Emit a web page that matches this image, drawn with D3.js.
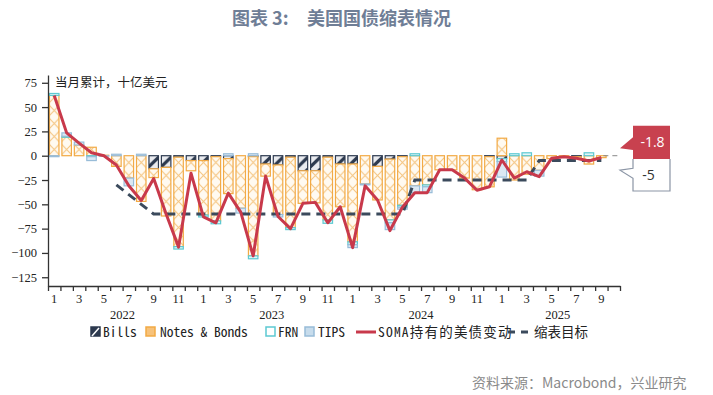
<!DOCTYPE html>
<html><head><meta charset="utf-8">
<script src="https://cdn.jsdelivr.net/npm/d3@7"></script>
<style>
html,body{margin:0;padding:0;background:#fff;}
svg{display:block;}
</style></head><body>
<svg id="c" width="713" height="395"></svg>
<script>
// ---------------- data ----------------
const months = ["2022-01","2022-02","2022-03","2022-04","2022-05","2022-06","2022-07","2022-08","2022-09","2022-10","2022-11","2022-12",
"2023-01","2023-02","2023-03","2023-04","2023-05","2023-06","2023-07","2023-08","2023-09","2023-10","2023-11","2023-12",
"2024-01","2024-02","2024-03","2024-04","2024-05","2024-06","2024-07","2024-08","2024-09","2024-10","2024-11","2024-12",
"2025-01","2025-02","2025-03","2025-04","2025-05","2025-06","2025-07","2025-08","2025-09","2025-10"];
const monthTickLabels = ["1","3","5","7","9","11"];
const years = ["2022","2023","2024","2025"];
const seriesNames = ["Bills","Notes & Bonds","FRN","TIPS"];
const lineNames = ["SOMA持有的美债变动","缩表目标"];

const bills = [0,0,0,0,0,0,0,0,-13.5,-12,-1.5,-5,-5,-1,-3,0,-1,-8.5,-9.5,-1.5,-15.5,-15.5,-1.5,-8.5,-8.5,0,-11,-3.5,-1,0,0,0,0,0,0,-1,-3,0,0,0,0,0,-1,0,0];
const notesBonds = [62,19,11,8.7,0.5,-11,-23,-47,-9,-50,-92,-10.5,-56,-66,-36,-54,-102,-12.5,-51,-72.5,-33.5,-33,-64.5,-44,-80,-29,-34.5,-62.5,-50,-31,-30,-14.5,-14.5,-23,-35,-31,18,-25,-19,-15,-3,-1,-2,-8.6,-2];
const frn = [2,1,0,-1,0,0,0,0,0,0,-2.5,0,-2,-3,0,0,-3,0,0,-2,0,0,-3.5,0,-3,0,0,-3,-2,2,-2,0,0,0,0,0,-3,2,3,0,0,0,0,3,0];
const tips = [-1,3.5,3,-4,-0.5,1.5,-8,1.5,0,0,0,0,0,0,2,-5,2,0,-2.5,0,0,0,0,0,-3,-1,0,-7,-2,-7,-6,0,0,0,0,0,-16,0,0,-6,0,0,0,0,0];
const soma = [62,23.5,13,3,0,-9.5,-31,-46,-23.5,-60,-94,-18,-63,-69,-38.5,-58,-103,-21,-62.5,-75,-49,-48,-69,-52.5,-94.5,-31,-45.5,-77,-53,-38,-38,-14.5,-14.5,-23,-35.5,-32,-4.4,-23,-16.5,-21.5,-2.7,-1,-2.7,-5.5,-1.8];
const target = [null,null,null,null,null,-30,-40,-50,
-60,-60,-60,-60,-60,-60,-60,-60,-60,-60,-60,-60,-60,-60,-60,-60,-60,-60,-60,-60,-60,
-25,-25,-25,-25,-25,-25,-25,-25,-25,-25,
-5,-5,-5,-5,-5,-5];
const yTicks = [75,50,25,0,-25,-50,-75,-100,-125];
const calloutLabels = ["-1.8","-5"];

// ---------------- setup ----------------
const svg = d3.select("#c");
const x = d3.scaleBand().domain(months).range([48,620]).paddingInner(0.14).paddingOuter(0.07);
const y = d3.scaleLinear().domain([-134,83]).range([286,75]);
const bw = x.bandwidth(), step = x.step();
const xc = m => x(m) + bw/2;

const serif = "'Liberation Serif','Times New Roman',serif";
const cjkMono = "'Noto Sans Mono CJK SC','Noto Sans CJK SC','Liberation Mono',monospace";
const cjk = "'Noto Sans CJK SC','Noto Sans',sans-serif";

const colors = {
  "Bills": {stroke:"#2d3a4f", fill:"url(#pBills)"},
  "Notes & Bonds": {stroke:"#f2aa45", fill:"url(#pNB)"},
  "FRN": {stroke:"#5cc9d2", fill:"#e3f6f7"},
  "TIPS": {stroke:"#98bcd8", fill:"#dbe8f3"}
};
const red = "#c8394b", navy = "#3b4a5c";

// patterns
const defs = svg.append("defs");
const pNB = defs.append("pattern").attr("id","pNB").attr("patternUnits","userSpaceOnUse")
  .attr("x",48).attr("y",0).attr("width",step).attr("height",13);
pNB.append("rect").attr("width",step).attr("height",13).attr("fill","#fffaf1");
pNB.append("line").attr("x1",0).attr("y1",0).attr("x2",step).attr("y2",13).attr("stroke","#f5c581").attr("stroke-width",1.1);
pNB.append("line").attr("x1",step).attr("y1",0).attr("x2",0).attr("y2",13).attr("stroke","#f5c581").attr("stroke-width",1.1);
const pB = defs.append("pattern").attr("id","pBills").attr("patternUnits","userSpaceOnUse")
  .attr("x",48).attr("y",0).attr("width",step).attr("height",12);
pB.append("rect").attr("width",step).attr("height",12).attr("fill","#e9ebef");
pB.append("line").attr("x1",-2).attr("y1",14).attr("x2",step+2).attr("y2",-2).attr("stroke","#2d3a4f").attr("stroke-width",3.2);

// title
svg.append("text").attr("x",232).attr("y",25).attr("font-family",cjk).attr("font-weight","bold")
  .attr("font-size",18).attr("fill","#6f7e96").text("图表 3:");
svg.append("text").attr("x",307).attr("y",25).attr("font-family",cjk).attr("font-weight","bold")
  .attr("font-size",18).attr("fill","#6f7e96").text("美国国债缩表情况");

// unit note
svg.append("text").attr("x",55).attr("y",87).attr("font-family",cjkMono).attr("font-size",12.5)
  .attr("fill","#222").text("当月累计，十亿美元");

// bars
const rows = months.slice(0, soma.length).map((m,i)=>({month:m,"Bills":bills[i],"Notes & Bonds":notesBonds[i],"FRN":frn[i],"TIPS":tips[i]}));
const stacked = d3.stack().keys(seriesNames).offset(d3.stackOffsetDiverging)(rows);
const gBars = svg.append("g");
stacked.forEach(layer=>{
  gBars.append("g").selectAll("rect").data(layer.filter(d=>d[1]!==d[0])).join("rect")
    .attr("x",d=>x(d.data.month)+0.6).attr("width",bw-1.2)
    .attr("y",d=>y(Math.max(d[0],d[1])))
    .attr("height",d=>Math.abs(y(d[0])-y(d[1])))
    .attr("fill",colors[layer.key].fill).attr("stroke",colors[layer.key].stroke).attr("stroke-width",1.2);
});

// target dashed line
const idx = d3.range(soma.length);
svg.append("path").datum(idx.filter(i=>target[i]!=null))
  .attr("d",d3.line().x(i=>xc(months[i])).y(i=>y(target[i])))
  .attr("fill","none").attr("stroke",navy).attr("stroke-width",3).attr("stroke-dasharray","9,6");
// soma line
svg.append("path").datum(idx)
  .attr("d",d3.line().x(i=>xc(months[i])).y(i=>y(soma[i])))
  .attr("fill","none").attr("stroke",red).attr("stroke-width",3).attr("stroke-linejoin","round");

// axes
const gy = svg.append("g").attr("transform","translate(48,0)")
  .call(d3.axisLeft(y).tickValues(yTicks).tickSize(6).tickSizeOuter(0).tickPadding(5));
gy.selectAll("text").attr("font-family",serif).attr("font-size",12.5).attr("fill","#222");
gy.selectAll("line,path").attr("stroke","#333").attr("stroke-width",1.3);

const xi = d3.scaleLinear().domain([0,months.length]).range([48,620]);
const gx = svg.append("g").attr("transform","translate(0,286)")
  .call(d3.axisBottom(xi).tickValues(d3.range(0,months.length+1)).tickSize(5).tickSizeOuter(0).tickFormat(""));
gx.selectAll("line,path").attr("stroke","#333").attr("stroke-width",1.3);
const gxl = svg.append("g").attr("transform","translate(0,286)")
  .call(d3.axisBottom(x).tickValues(months.filter(m=>monthTickLabels.includes(String(+m.slice(5))))).tickSize(0).tickPadding(8)
    .tickFormat(m=>String(+m.slice(5))));
gxl.select(".domain").remove();
gxl.selectAll("text").attr("font-family",serif).attr("font-size",12.5).attr("fill","#222");

// year labels
svg.append("g").selectAll("text").data(years).join("text")
  .attr("x",yr=>{const ms=months.filter(m=>m.startsWith(yr)); return (x(ms[0])-x.step()*x.paddingInner()/2 + x(ms[ms.length-1])+bw+x.step()*x.paddingInner()/2)/2;})
  .attr("y",319).attr("text-anchor","middle").attr("font-family",serif).attr("font-size",12.5).attr("fill","#222").text(d=>d);

// legend
const lg = svg.append("g").attr("font-family",cjkMono).attr("font-size",13.5).attr("fill","#222");
const ly = 332;
function boxIcon(xp, stroke, fill){
  lg.append("rect").attr("x",xp).attr("y",ly-5).attr("width",9).attr("height",9).attr("fill",fill).attr("stroke",stroke).attr("stroke-width",1.5);
}
boxIcon(91,"#2d3a4f","#2d3a4f");
lg.append("line").attr("x1",92).attr("y1",ly+4).attr("x2",99).attr("y2",ly-4).attr("stroke","#fff").attr("stroke-width",1.5);
lg.append("text").attr("x",103).attr("y",ly+5).text(seriesNames[0]);
boxIcon(146,"#f2aa45","#f7c27a");
lg.append("text").attr("x",160).attr("y",ly+5).text(seriesNames[1]);
boxIcon(266,"#5cc9d2","#fff");
lg.append("text").attr("x",278).attr("y",ly+5).text(seriesNames[2]);
boxIcon(305,"#98bcd8","#c7dcec");
lg.append("text").attr("x",318).attr("y",ly+5).text(seriesNames[3]);
lg.append("line").attr("x1",356).attr("x2",376).attr("y1",ly).attr("y2",ly).attr("stroke",red).attr("stroke-width",3);
lg.append("text").attr("x",378).attr("y",ly+5).attr("letter-spacing",1.2).text(lineNames[0]);
lg.append("line").attr("x1",508).attr("x2",530).attr("y1",ly).attr("y2",ly).attr("stroke",navy).attr("stroke-width",3).attr("stroke-dasharray","7,6");
lg.append("text").attr("x",534).attr("y",ly+5).text(lineNames[1]);

// callouts
const y0 = y(0), cx0 = 633, cx1 = 670;
svg.append("line").attr("x1",xc(months[soma.length-1])+2).attr("x2",619).attr("y1",y0).attr("y2",y0)
  .attr("stroke","#888").attr("stroke-width",1).attr("stroke-dasharray","5,4");
svg.append("path").attr("d",`M${cx0},${y0-30}H${cx1}V${y0+3.3}H${cx0}V${y0-5.7}L620,${y0-7.5}L${cx0},${y0-18.5}Z`)
  .attr("fill","#c8414f");
svg.append("text").attr("x",(cx0+cx1)/2+1).attr("y",y0-8.5).attr("text-anchor","middle")
  .attr("font-family","'Open Sans','Noto Sans',sans-serif").attr("font-size",14).attr("fill","#fff").text(calloutLabels[0]);
svg.append("path").attr("d",`M${cx0},${y0+3.3}V${y0+12.6}L620,${y0+14.5}L${cx0},${y0+22.6}V${y0+35.3}H${cx1}V${y0+3.3}`)
  .attr("fill","#fff").attr("stroke","#8b95a5").attr("stroke-width",1.2);
svg.append("text").attr("x",(cx0+cx1)/2-3).attr("y",y0+24.5).attr("text-anchor","middle")
  .attr("font-family","'Open Sans','Noto Sans',sans-serif").attr("font-size",14).attr("fill","#333").text(calloutLabels[1]);

// source
svg.append("text").attr("x",472).attr("y",388).attr("font-family",cjk).attr("font-size",14)
  .attr("fill","#8a8a8a").text("资料来源：Macrobond，兴业研究");
</script>
</body></html>
